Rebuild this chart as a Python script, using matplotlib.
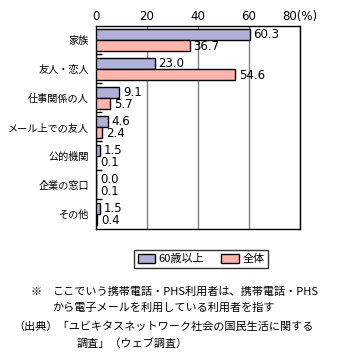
import numpy as np
import matplotlib
matplotlib.use("Agg")
from matplotlib import pyplot as plt
from matplotlib.patches import Patch

plt.rcParams['font.family'] = ['Noto Sans CJK JP', 'DejaVu Sans']

categories = ['家族', '友人・恋人', '仕事関係の人', 'メール上での友人', '公的機関', '企業の窓口', 'その他']
over60 = [60.3, 23.0, 9.1, 4.6, 1.5, 0.0, 1.5]
total = [36.7, 54.6, 5.7, 2.4, 0.1, 0.1, 0.4]
series_names = ['60歳以上', '全体']

col_blue = '#b0b0d8'
col_pink = '#ffb4ac'

fig = plt.figure(figsize=(3.39, 3.63), dpi=100)
ax = fig.add_axes([0.283, 0.369, 0.602, 0.559])

y = np.arange(len(categories))
h = 0.38
ax.barh(y - h / 2, over60, height=h, color=col_blue, edgecolor='black', linewidth=1.0, zorder=3)
ax.barh(y + h / 2, total, height=h, color=col_pink, edgecolor='black', linewidth=1.0, zorder=3)

for i in range(len(categories)):
    ax.text(over60[i] + 1.5, y[i] - h / 2, '%.1f' % over60[i], va='center', ha='left', fontsize=8.5,
            family=['DejaVu Sans'], zorder=4)
    ax.text(total[i] + 1.5, y[i] + h / 2 + 0.05, '%.1f' % total[i], va='center', ha='left', fontsize=8.5,
            family=['DejaVu Sans'], zorder=4)

ax.set_xlim(0, 80)
ax.set_ylim(len(categories) - 0.5 + 0.03, -0.5 + 0.03)
ax.xaxis.tick_top()
ax.set_xticks([0, 20, 40, 60, 80])
ax.set_xticklabels(['0', '20', '40', '60', '80(%)'], family=['DejaVu Sans'])
ax.tick_params(axis='x', length=0, labelsize=8.5, pad=2)
ax.set_yticks(y)
ax.set_yticklabels(categories, fontsize=7.3)
ax.tick_params(axis='y', length=0, pad=5)
ax.set_yticks(np.arange(len(categories) - 1) + 0.5, minor=True)
ax.tick_params(axis='y', which='minor', direction='in', length=4, width=1)
ax.grid(axis='x', color='#808080', linewidth=1.0, zorder=0)
for s in ax.spines.values():
    s.set_linewidth(1.0)

handles = [Patch(facecolor=col_blue, edgecolor='black'), Patch(facecolor=col_pink, edgecolor='black')]
fig.legend(handles, series_names, loc='center', bbox_to_anchor=(0.593, 0.286), ncol=2, fontsize=8,
           frameon=True, fancybox=False, edgecolor='black', handlelength=1.6, handleheight=0.9,
           columnspacing=1.5, handletextpad=0.3, borderpad=0.35)

fs = 8
fig.text(0.09, 1 - 292 / 363, '※', fontsize=fs, va='center')
fig.text(0.155, 1 - 292 / 363, 'ここでいう携帯電話・PHS利用者は、携帯電話・PHS', fontsize=fs, va='center')
fig.text(0.155, 1 - 308 / 363, 'から電子メールを利用している利用者を指す', fontsize=fs, va='center')
fig.text(0.04, 1 - 327 / 363, '（出典）「ユビキタスネットワーク社会の国民生活に関する', fontsize=fs, va='center')
fig.text(0.225, 1 - 343 / 363, '調査」（ウェブ調査）', fontsize=fs, va='center')

plt.savefig('out.png', dpi=100)
